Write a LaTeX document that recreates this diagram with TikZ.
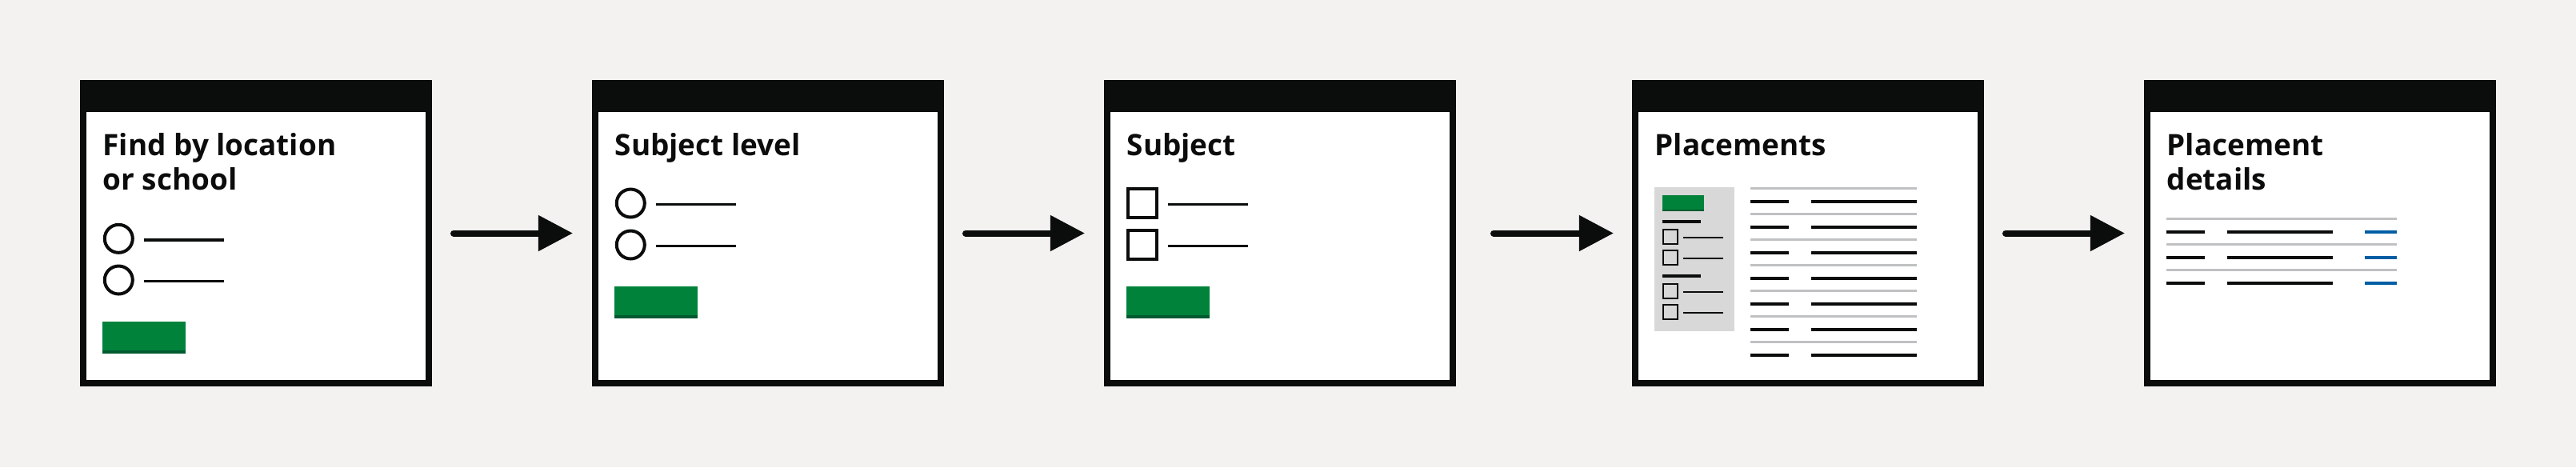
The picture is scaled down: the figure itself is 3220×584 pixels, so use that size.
\documentclass[tikz,border=0pt]{standalone}
\usepackage{fontspec}
\setmainfont{Open Sans}
\usetikzlibrary{positioning,arrows.meta,calc}
\definecolor{ink}{HTML}{0B0C0C}
\definecolor{paper}{HTML}{F3F2F1}
\definecolor{govgreen}{HTML}{00823B}
\definecolor{greenedge}{HTML}{005A30}
\definecolor{panel}{HTML}{D8D8D8}
\definecolor{rulegrey}{HTML}{BFC1C3}
\definecolor{linkblue}{HTML}{005EA5}
\tikzset{
  screen/.style ={draw=ink, fill=white, line width=0.8mm, inner sep=0pt,
                  outer sep=0.4mm, minimum width=43.2mm, minimum height=37.5mm},
  heading/.style={anchor=base west, inner sep=0pt, align=left, text=ink,
                  font=\fontsize{10.5}{12.2}\selectfont\bfseries},
  flow/.style   ={draw=ink, line width=0.8mm, line cap=round,
                  -{Triangle[length=4.3mm,width=4.3mm]},
                  shorten <=2.7mm, shorten >=2.4mm},
  ctrl/.style   ={draw=ink, line width=0.4mm},
  txt/.style    ={draw=ink, line width=0.35mm},
  tiny/.style   ={draw=ink, line width=0.2mm},
  cell/.style   ={draw=ink, line width=0.4mm},
  sep/.style    ={draw=rulegrey, line width=0.35mm},
  lnk/.style    ={draw=linkblue, line width=0.4mm},
}
% green start button, bottom edge a shade darker
\newcommand{\govbtn}[5]{%
  \fill[govgreen] (#1,#2) rectangle (#3,#4);
  \fill[greenedge] (#1,#4-#5) rectangle (#3,#4);}

\begin{document}
\begin{tikzpicture}[x=0.1mm, y=-0.1mm]
  \fill[paper] (0,0) rectangle (3220,584);

  % the five screens of the journey
  \node[screen, anchor=north west] (find) at (100,100) {};
  \node[screen, right=20mm of find]    (level)   {};
  \node[screen, right=20mm of level]   (subject) {};
  \node[screen, right=22mm of subject] (place)   {};
  \node[screen, right=20mm of place]   (detail)  {};

  \foreach \n in {find,level,subject,place,detail}
    \fill[ink] (\n.north west) rectangle ([yshift=-4mm]\n.north east);

  % two-line headings sit on the baseline of their last line
  \node[heading] (findT)    at ([shift={(2.8mm,-13.7mm)}]find.north west)   {Find by location\\or school};
  \node[heading] (levelT)   at ([shift={(2.8mm,-9.4mm)}]level.north west)   {Subject level};
  \node[heading] (subjectT) at ([shift={(2.8mm,-9.4mm)}]subject.north west) {Subject};
  \node[heading] (placeT)   at ([shift={(2.8mm,-9.4mm)}]place.north west)   {Placements};
  \node[heading] (detailT)  at ([shift={(2.8mm,-13.7mm)}]detail.north west) {Placement\\details};

  % radio buttons
  \begin{scope}[shift={(find.north west)}]
    \foreach \y in {198.3,250} {
      \draw[ctrl] (48.3,\y) circle[radius=1.75mm];
      \draw[txt] (80,\y+1.7) -- (180,\y+1.7);
    }
    \govbtn{28}{302}{132}{342}{4}
  \end{scope}
  \begin{scope}[shift={(level.north west)}]
    \foreach \y in {154,206} {
      \draw[ctrl] (48.3,\y) circle[radius=1.75mm];
      \draw[txt] (80,\y+1.7) -- (180,\y+1.7);
    }
    \govbtn{28}{258}{132}{298}{4}
  \end{scope}

  % checkboxes
  \begin{scope}[shift={(subject.north west)}]
    \foreach \y in {134,186} {
      \draw[ctrl] (30,\y+2) rectangle (66,\y+38);
      \draw[txt] (80,\y+21.7) -- (180,\y+21.7);
    }
    \govbtn{28}{258}{132}{298}{4}
  \end{scope}

  % filter panel and results table
  \begin{scope}[shift={(place.north west)}]
    \fill[panel] (28,134) rectangle (128,314);
    \govbtn{38}{144}{90}{164}{2}
    \draw[cell] (38,177) -- (86,177) (38,245) -- (86,245);
    \foreach \y in {186,212,254,280} {
      \draw[tiny] (39,\y+1) rectangle (57,\y+19);
      \draw[tiny] (64,\y+11) -- (114,\y+11);
    }
    \foreach \k in {0,...,6} {
      \draw[sep] (148,135.7+32*\k) -- (356,135.7+32*\k);
      \draw[cell] (148,152+32*\k) -- (196,152+32*\k) (224,152+32*\k) -- (356,152+32*\k);
    }
  \end{scope}

  % summary list with change links
  \begin{scope}[shift={(detail.north west)}]
    \foreach \k in {0,1,2} {
      \draw[sep] (28,173.7+32*\k) -- (316,173.7+32*\k);
      \draw[cell] (28,190+32*\k) -- (76,190+32*\k) (104,190+32*\k) -- (236,190+32*\k);
      \draw[lnk] (276,190+32*\k) -- (316,190+32*\k);
    }
  \end{scope}

  % arrows
  \draw[flow] (find) -- (level);
  \draw[flow] (level) -- (subject);
  \draw[flow, shorten <=4.7mm, shorten >=2.3mm] (subject) -- (place);
  \draw[flow] (place) -- (detail);
\end{tikzpicture}
\end{document}
